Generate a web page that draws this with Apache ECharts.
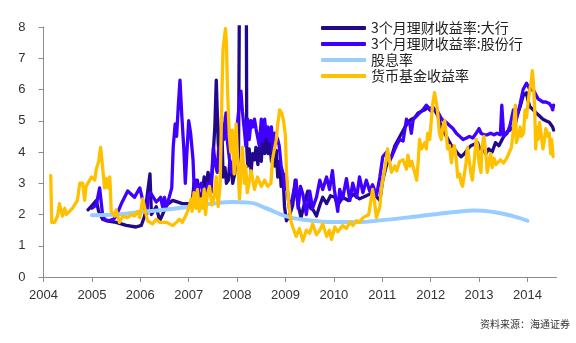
<!DOCTYPE html>
<html>
<head>
<meta charset="utf-8">
<script src="https://cdn.jsdelivr.net/npm/echarts@6/dist/echarts.min.js"></script>
<style>
html,body{margin:0;padding:0;background:#fff;}
#c{width:576px;height:343px;}
</style>
</head>
<body>
<div id="c"></div>
<script>
// ---- data (decimal year, value %) ----
const seriesNames = ['3个月理财收益率:大行', '3个月理财收益率:股份行', '股息率', '货币基金收益率'];
const yearTicks = [2004, 2005, 2006, 2007, 2008, 2009, 2010, 2011, 2012, 2013, 2014];

const bigBank = [
[2004.92,2.15],[2005.01,2.3],[2005.09,2.45],[2005.14,2.1],[2005.22,1.85],[2005.30,1.8],[2005.50,1.75],[2005.71,1.65],[2005.91,1.6],
[2006.02,1.65],[2006.09,1.95],[2006.15,2.7],[2006.20,3.3],[2006.23,2.0],[2006.33,2.25],[2006.40,1.8],[2006.46,2.0],[2006.54,2.3],
[2006.67,2.45],[2006.87,2.35],[2007.07,2.35],[2007.11,3.0],[2007.15,2.6],[2007.18,3.1],[2007.22,2.5],[2007.28,2.7],[2007.32,3.2],
[2007.36,2.9],[2007.40,3.35],[2007.43,3.0],[2007.46,2.7],[2007.50,3.75],[2007.54,4.8],[2007.57,6.3],[2007.61,4.3],[2007.65,3.45],
[2007.68,5.15],[2007.71,3.2],[2007.75,3.5],[2007.78,3.0],[2007.82,3.1],[2007.85,3.7],[2007.88,3.5],[2007.91,3.0],[2007.95,3.3],
[2007.98,3.75],[2008.00,3.5],[2008.03,3.9],[2008.05,9.5],[2008.19,9.5],[2008.20,4.15],[2008.22,3.55],[2008.25,4.1],[2008.29,3.4],
[2008.32,3.95],[2008.36,3.75],[2008.39,4.15],[2008.43,3.6],[2008.46,4.15],[2008.50,3.7],[2008.53,4.45],[2008.57,3.95],[2008.60,4.6],
[2008.64,3.95],[2008.67,4.4],[2008.71,3.7],[2008.74,4.3],[2008.78,3.55],[2008.81,4.05],[2008.84,3.2],[2008.88,3.7],[2008.91,2.9],
[2008.95,3.2],[2008.98,2.25],[2009.02,1.8],[2009.09,2.0],[2009.15,2.3],[2009.20,3.1],[2009.25,2.4],[2009.32,1.9],[2009.40,2.4],
[2009.46,2.75],[2009.52,2.2],[2009.57,2.15],[2009.64,1.95],[2009.71,2.3],[2009.77,2.55],[2009.85,2.35],[2009.93,2.6],[2010.02,2.55],
[2010.08,2.3],[2010.18,2.55],[2010.30,2.45],[2010.39,2.65],[2010.53,2.5],[2010.67,2.6],[2010.80,2.7],[2010.95,2.45],[2011.01,3.1],
[2011.09,3.6],[2011.19,3.85],[2011.26,4.2],[2011.33,4.4],[2011.40,4.6],[2011.47,4.8],[2011.54,4.95],[2011.60,5.05],[2011.67,5.1],
[2011.74,5.25],[2011.81,5.3],[2011.88,5.35],[2011.94,5.45],[2012.01,5.3],[2012.08,5.35],[2012.15,5.15],[2012.22,4.8],[2012.29,4.6],
[2012.36,4.4],[2012.43,4.2],[2012.49,4.1],[2012.56,3.95],[2012.63,3.85],[2012.70,3.95],[2012.77,4.1],[2012.83,4.2],[2012.90,4.25],
[2012.97,4.3],[2013.01,4.1],[2013.06,4.15],[2013.14,3.95],[2013.20,4.1],[2013.27,4.0],[2013.34,4.3],[2013.41,4.2],[2013.51,4.5],
[2013.58,4.65],[2013.64,4.7],[2013.71,4.8],[2013.78,5.15],[2013.85,5.45],[2013.91,5.8],[2013.98,5.9],[2014.01,5.65],[2014.05,5.45],
[2014.12,5.35],[2014.18,5.25],[2014.25,5.15],[2014.32,5.05],[2014.38,5.0],[2014.45,4.95],[2014.52,4.8],[2014.54,4.7]
];

const jointBank = [
[2005.00,2.2],[2005.09,2.3],[2005.16,2.85],[2005.22,2.0],[2005.26,1.85],[2005.35,1.8],[2005.45,1.85],[2005.50,1.95],[2005.61,2.35],
[2005.74,2.75],[2005.88,2.55],[2005.99,2.85],[2006.05,2.45],[2006.13,2.0],[2006.17,2.6],[2006.21,2.7],[2006.33,2.4],[2006.42,2.55],
[2006.46,2.25],[2006.50,2.55],[2006.54,2.25],[2006.58,2.45],[2006.65,2.85],[2006.68,4.15],[2006.72,4.9],[2006.75,4.5],[2006.79,5.6],
[2006.82,6.3],[2006.86,5.1],[2006.90,4.1],[2006.93,3.0],[2006.96,3.9],[2007.00,5.0],[2007.04,4.6],[2007.09,3.75],[2007.12,2.55],
[2007.15,3.1],[2007.19,2.8],[2007.26,3.0],[2007.32,2.45],[2007.40,3.0],[2007.44,2.7],[2007.48,3.35],[2007.51,4.15],[2007.55,3.6],
[2007.59,3.35],[2007.62,4.15],[2007.66,3.7],[2007.70,4.9],[2007.73,4.4],[2007.77,5.25],[2007.80,4.35],[2007.84,3.8],[2007.88,3.35],
[2007.91,3.6],[2007.95,3.95],[2007.98,4.3],[2008.00,4.8],[2008.05,5.6],[2008.08,5.95],[2008.11,5.3],[2008.15,4.7],[2008.18,4.2],
[2008.22,5.05],[2008.25,4.4],[2008.29,5.0],[2008.32,4.8],[2008.36,5.05],[2008.39,4.75],[2008.43,4.8],[2008.46,4.2],[2008.50,5.05],
[2008.53,4.35],[2008.57,5.05],[2008.60,4.5],[2008.64,4.8],[2008.67,4.35],[2008.71,4.8],[2008.74,4.0],[2008.78,4.6],[2008.84,4.4],
[2008.87,4.2],[2008.91,3.55],[2008.95,3.3],[2008.98,2.8],[2009.01,3.3],[2009.05,2.6],[2009.09,2.1],[2009.15,2.6],[2009.22,3.1],
[2009.26,2.2],[2009.31,2.9],[2009.36,2.65],[2009.43,2.0],[2009.50,2.75],[2009.56,2.2],[2009.64,2.55],[2009.71,3.1],[2009.77,2.8],
[2009.85,3.2],[2009.91,2.8],[2009.97,3.4],[2010.01,2.8],[2010.08,2.1],[2010.12,2.8],[2010.18,2.5],[2010.26,3.15],[2010.33,2.45],
[2010.39,3.0],[2010.47,2.55],[2010.53,3.2],[2010.60,2.7],[2010.67,3.1],[2010.74,2.75],[2010.80,2.95],[2010.88,2.6],[2010.95,3.2],
[2011.01,3.85],[2011.09,4.0],[2011.15,3.7],[2011.22,3.95],[2011.29,4.2],[2011.36,4.4],[2011.43,4.35],[2011.50,5.05],[2011.57,4.9],
[2011.60,4.6],[2011.64,5.05],[2011.71,5.15],[2011.77,5.25],[2011.84,5.35],[2011.91,5.5],[2011.98,5.35],[2012.04,5.45],[2012.09,5.35],
[2012.14,5.3],[2012.23,5.05],[2012.32,4.95],[2012.39,4.85],[2012.46,4.75],[2012.53,4.6],[2012.60,4.5],[2012.67,4.4],[2012.74,4.45],
[2012.80,4.5],[2012.87,4.45],[2012.94,4.6],[2013.00,4.75],[2013.04,4.6],[2013.10,4.55],[2013.17,4.55],[2013.24,4.6],[2013.31,4.55],
[2013.37,4.6],[2013.44,4.55],[2013.47,5.5],[2013.51,4.5],[2013.58,4.6],[2013.64,4.85],[2013.71,5.35],[2013.75,4.9],[2013.85,5.55],
[2013.91,6.0],[2013.98,6.2],[2014.01,6.25],[2014.05,6.0],[2014.12,6.0],[2014.15,5.9],[2014.22,5.7],[2014.32,5.6],[2014.38,5.6],
[2014.45,5.55],[2014.50,5.45],[2014.52,5.35],[2014.54,5.5]
];

const dividendYield = [
[2005.00,1.98],[2005.50,2.0],[2006.00,2.08],[2006.50,2.15],[2007.00,2.25],[2007.50,2.35],[2007.90,2.4],[2008.25,2.38],[2008.60,2.2],
[2009.00,1.95],[2009.30,1.85],[2009.70,1.78],[2010.00,1.76],[2010.50,1.76],[2011.00,1.82],[2011.50,1.9],[2012.00,1.99],[2012.50,2.08],
[2012.90,2.13],[2013.30,2.08],[2013.70,1.95],[2014.00,1.8]
];

const moneyFund = [
[2004.15,3.25],[2004.17,1.75],[2004.23,1.75],[2004.29,1.95],[2004.33,2.35],[2004.37,2.4],[2004.39,1.95],[2004.44,2.2],[2004.47,2.0],
[2004.60,2.2],[2004.70,2.45],[2004.75,3.0],[2004.81,3.0],[2004.85,2.45],[2004.88,2.9],[2004.99,3.2],[2005.06,3.1],[2005.09,3.45],
[2005.14,3.7],[2005.18,4.15],[2005.22,3.55],[2005.26,2.85],[2005.30,3.15],[2005.33,2.85],[2005.37,3.2],[2005.40,2.1],[2005.47,1.95],
[2005.50,2.15],[2005.57,1.75],[2005.64,1.95],[2005.74,1.9],[2005.81,2.0],[2005.88,1.95],[2005.95,2.1],[2005.99,1.9],[2006.05,2.5],
[2006.09,2.45],[2006.15,1.8],[2006.25,1.7],[2006.33,1.85],[2006.40,1.75],[2006.46,1.75],[2006.54,1.75],[2006.60,1.7],[2006.67,1.65],
[2006.75,1.75],[2006.81,1.85],[2006.87,1.75],[2006.95,2.0],[2007.01,2.25],[2007.05,2.5],[2007.07,2.1],[2007.11,2.7],[2007.15,2.2],
[2007.18,2.8],[2007.22,2.1],[2007.25,2.5],[2007.28,2.2],[2007.32,2.8],[2007.35,2.0],[2007.38,2.6],[2007.43,2.9],[2007.48,2.3],
[2007.53,2.6],[2007.57,3.2],[2007.61,2.25],[2007.65,3.0],[2007.69,6.1],[2007.71,7.3],[2007.76,7.95],[2007.78,7.5],[2007.80,6.1],
[2007.84,4.5],[2007.87,4.0],[2007.90,4.7],[2007.94,3.3],[2007.98,4.9],[2008.00,4.15],[2008.05,2.5],[2008.11,4.15],[2008.15,3.0],
[2008.18,3.55],[2008.21,2.7],[2008.29,3.4],[2008.36,2.8],[2008.42,3.2],[2008.50,2.9],[2008.57,3.1],[2008.63,2.9],[2008.70,3.0],
[2008.73,3.75],[2008.81,4.4],[2008.84,4.9],[2008.88,5.35],[2008.92,5.25],[2008.96,5.0],[2009.00,4.5],[2009.02,3.4],[2009.06,2.45],
[2009.11,1.8],[2009.15,1.6],[2009.22,1.3],[2009.29,1.55],[2009.36,1.15],[2009.43,1.5],[2009.50,1.4],[2009.56,1.7],[2009.64,1.35],
[2009.71,1.5],[2009.77,1.7],[2009.85,1.3],[2009.91,1.5],[2009.95,1.2],[2010.02,1.6],[2010.08,1.45],[2010.18,1.65],[2010.26,1.55],
[2010.33,1.75],[2010.39,1.65],[2010.47,1.8],[2010.53,1.75],[2010.60,1.9],[2010.67,1.95],[2010.72,2.0],[2010.76,2.4],[2010.80,2.8],
[2010.84,2.4],[2010.88,1.9],[2010.91,1.85],[2010.95,2.25],[2010.98,2.8],[2011.01,3.1],[2011.05,3.45],[2011.08,3.75],
[2011.11,4.1],[2011.15,3.7],[2011.19,3.35],[2011.26,3.55],[2011.30,3.4],[2011.36,3.7],[2011.43,3.75],[2011.50,3.45],[2011.53,3.9],
[2011.57,3.55],[2011.61,3.7],[2011.67,3.35],[2011.71,3.1],[2011.74,3.65],[2011.77,4.4],[2011.81,4.1],[2011.88,4.3],[2011.91,4.1],
[2011.94,4.6],[2011.98,4.4],[2012.04,5.5],[2012.08,5.9],[2012.12,5.95],[2012.14,5.35],[2012.18,4.6],[2012.22,4.4],[2012.25,4.8],
[2012.29,5.0],[2012.32,4.6],[2012.35,4.1],[2012.39,4.2],[2012.43,3.65],[2012.45,3.95],[2012.49,4.2],[2012.53,3.75],[2012.56,3.2],
[2012.60,3.3],[2012.63,3.0],[2012.66,2.9],[2012.70,2.95],[2012.73,3.65],[2012.76,4.15],[2012.80,3.7],[2012.83,3.35],[2012.86,3.1],
[2012.90,3.7],[2012.94,4.4],[2012.97,4.2],[2013.00,3.65],[2013.04,3.35],[2013.06,4.15],[2013.10,4.5],[2013.14,3.95],[2013.17,3.35],
[2013.21,3.75],[2013.24,3.95],[2013.27,3.5],[2013.31,3.8],[2013.35,3.6],[2013.37,3.65],[2013.44,3.75],[2013.51,3.65],[2013.57,3.8],
[2013.61,3.75],[2013.67,4.15],[2013.71,4.75],[2013.75,5.5],[2013.77,4.3],[2013.81,4.5],[2013.85,4.8],[2013.87,4.5],[2013.92,4.6],
[2013.95,5.35],[2013.98,5.1],[2014.02,5.7],[2014.05,6.0],[2014.08,6.3],[2014.10,6.6],[2014.12,6.3],[2014.15,5.35],[2014.17,4.1],
[2014.20,4.8],[2014.22,4.4],[2014.25,4.95],[2014.28,4.6],[2014.32,4.1],[2014.35,4.4],[2014.38,4.75],[2014.42,4.5],[2014.45,4.6],
[2014.48,3.95],[2014.50,4.4],[2014.53,3.85]
];

const sourceNote = '资料来源：海通证券';

// ---- chart ----
const colors = ['#22088a', '#3f00ff', '#99ccff', '#ffc000'];
const chart = echarts.init(document.getElementById('c'), null, {renderer: 'canvas'});
const axisColor = '#8c8c8c';
const labelStyle = {color: '#333', fontFamily: 'Liberation Sans, Arial, sans-serif', fontSize: 13};

function lineSeries(name, data, color, width, smooth) {
  return {
    name: name, type: 'line', data: data, showSymbol: false, symbol: 'none',
    smooth: smooth, clip: true,
    lineStyle: {color: color, width: width, join: 'round', cap: 'round'},
    itemStyle: {color: color}
  };
}

chart.setOption({
  animation: false,
  backgroundColor: '#fff',
  grid: {left: 43.5, right: 19.5, top: 27, bottom: 66, containLabel: false},
  legend: {
    orient: 'vertical', left: 316, top: 16, itemGap: 2,
    icon: 'roundRect', itemWidth: 45, itemHeight: 4,
    textStyle: {fontFamily: 'Noto Sans CJK SC, sans-serif', fontSize: 14, color: '#222', lineHeight: 14},
    data: seriesNames
  },
  xAxis: {
    type: 'value', min: 2004, max: 2014.6, interval: 1,
    axisLine: {lineStyle: {color: axisColor, width: 1}},
    axisTick: {show: true, length: 5, inside: false, lineStyle: {color: axisColor}, customValues: yearTicks},
    axisLabel: Object.assign({margin: 12, customValues: yearTicks,
      formatter: function (v) { return Math.abs(v - Math.round(v)) < 1e-6 ? String(Math.round(v)) : ''; }}, labelStyle),
    splitLine: {show: false}
  },
  yAxis: {
    type: 'value', min: 0, max: 8, interval: 1,
    axisLine: {show: true, lineStyle: {color: axisColor, width: 1}},
    axisTick: {show: true, length: 5, lineStyle: {color: axisColor}},
    axisLabel: Object.assign({margin: 18}, labelStyle),
    splitLine: {show: false}
  },
  graphic: [{
    type: 'text', right: 6, top: 319,
    style: {text: sourceNote, fontFamily: 'Noto Sans CJK SC, sans-serif', fontSize: 10, fill: '#333'}
  }],
  series: [
    lineSeries(seriesNames[0], bigBank, colors[0], 3.3, false),
    lineSeries(seriesNames[1], jointBank, colors[1], 3.3, false),
    lineSeries(seriesNames[2], dividendYield, colors[2], 4, true),
    lineSeries(seriesNames[3], moneyFund, colors[3], 3.3, false)
  ]
});
</script>
</body>
</html>
